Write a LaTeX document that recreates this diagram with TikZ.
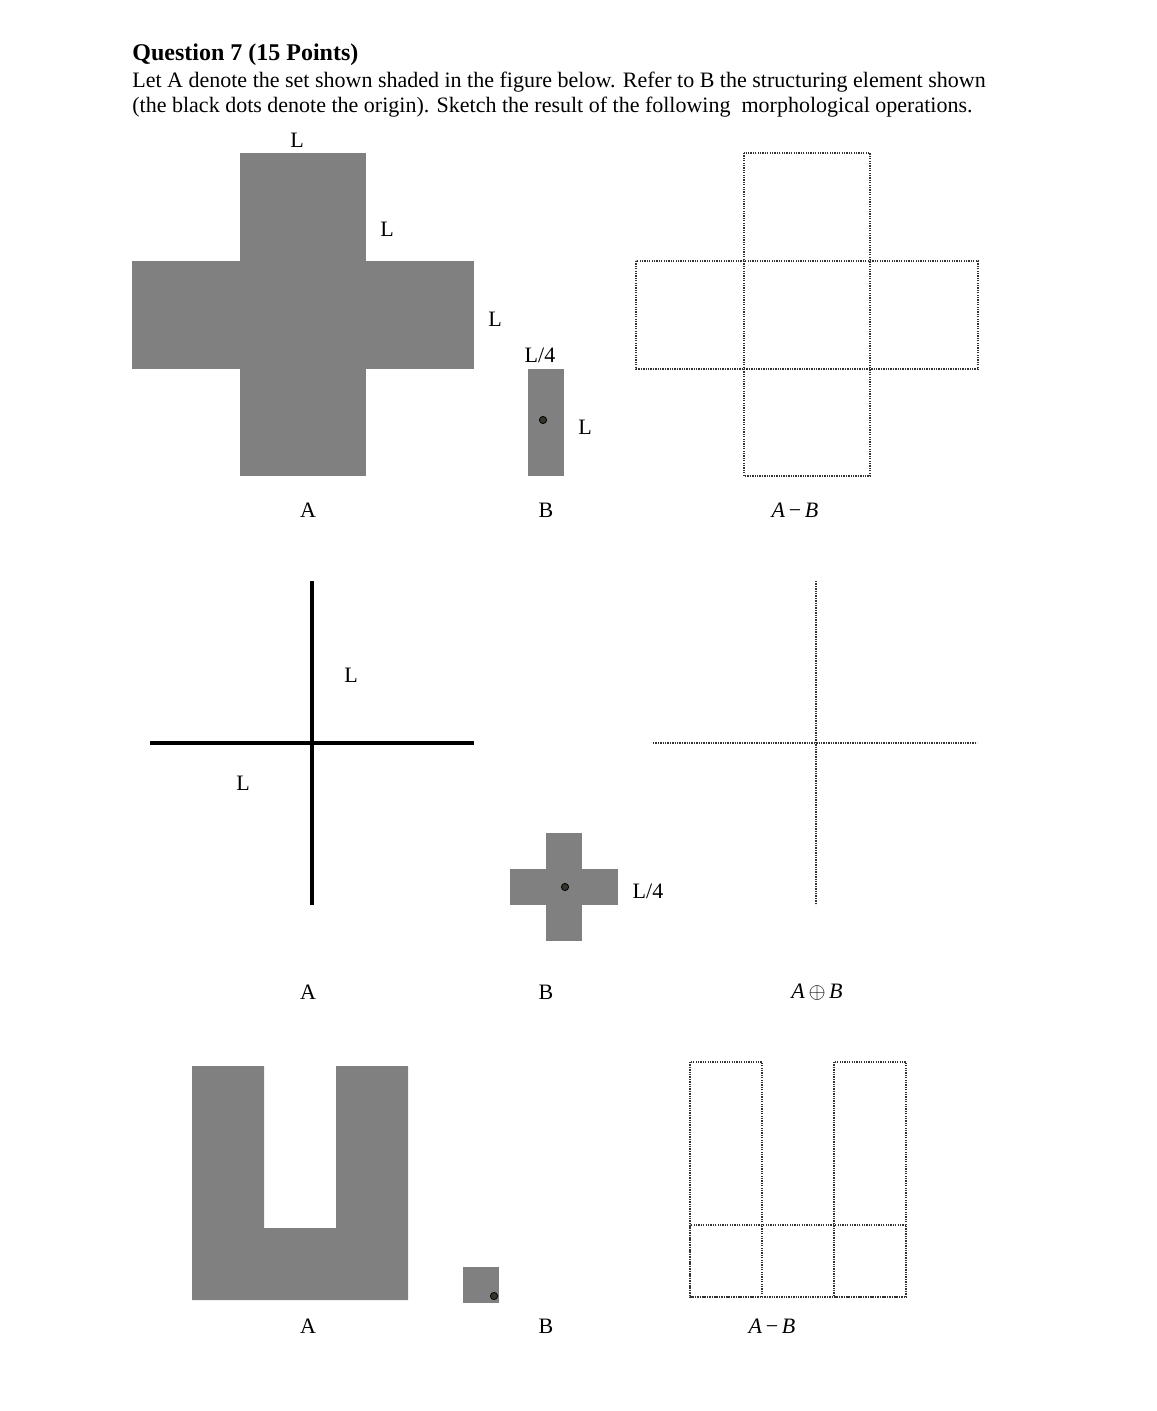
\documentclass[tikz,border=0pt]{standalone}
\usepackage{fontspec}
\setmainfont{Liberation Serif}
\begin{document}
\begin{tikzpicture}[x=0.5pt,y=-0.5pt,
  shade/.style={fill=black!50,draw=none},
  dotline/.style={draw=black!80,line width=0.65pt,dash pattern=on 0.65pt off 0.55pt},
  origin/.style={circle,draw=black,fill=black!80!olive,inner sep=0pt,minimum size=3.6pt,line width=0.4pt},
  lbl/.style={inner sep=0pt,font=\fontsize{11}{13}\selectfont},
  thick line/.style={line width=2pt,draw=black}]
\useasboundingbox (0,0) rectangle (1156,1411);
\fill[white] (0,0) rectangle (1156,1411);
% header
\node[lbl,anchor=base west,font=\fontsize{12}{14}\selectfont\bfseries] (title) at (132,61) {Question 7 (15 Points)};
\node[lbl,anchor=base west] (line1) at (132,88) {Let A denote the set shown shaded in the figure below. Refer to B the structuring element shown};
\node[lbl,anchor=base west] (line2) at (132,113) {(the black dots denote the origin). Sketch the result of the following\ \ morphological operations.};
% row 1
\fill[shade] (240,153) rectangle (366,476);
\fill[shade] (132,261) rectangle (474,369);
\node[lbl] (l1) at (297,140) {L};
\node[lbl] (l2) at (387,229) {L};
\node[lbl] (l3) at (495,319) {L};
\node[lbl] (l4) at (540,355) {L/4};
\node[lbl] (l5) at (585,427) {L};
\fill[shade] (528,369) rectangle (564,476);
\node[origin] (o1) at (543,420) {};
\draw[dotline] (744,153) rectangle (870,476);
\draw[dotline] (636,261) rectangle (978,369);
\node[lbl] (a1) at (308,510) {A};
\node[lbl] (b1) at (546,510) {B};
\node[lbl] (r1) at (795,510) {\textit{A}\,−\,\textit{B}};
% row 2
\draw[thick line] (312,581) -- (312,905);
\draw[thick line] (150,743) -- (474,743);
\node[lbl] (l6) at (351,675) {L};
\node[lbl] (l7) at (243,783) {L};
\fill[shade] (546,833) rectangle (582,941);
\fill[shade] (510,869) rectangle (618,905);
\node[origin] (o2) at (565,887) {};
\node[lbl] (l8) at (648,891) {L/4};
\draw[dotline] (816,581) -- (816,905);
\draw[dotline] (653,743) -- (977,743);
\node[lbl] (a2) at (308,992) {A};
\node[lbl] (b2) at (546,992) {B};
\node[lbl] (r2) at (817,992) {\textit{A}\,$\oplus$\,\textit{B}};
% row 3
\fill[shade] (192,1066) -- (264,1066) -- (264,1228) -- (336,1228) -- (336,1066) -- (408,1066) -- (408,1300) -- (192,1300) -- cycle;
\fill[shade] (463,1267) rectangle (499,1303);
\node[origin] (o3) at (494,1296) {};
\draw[dotline] (690,1062) rectangle (762,1297);
\draw[dotline] (834,1062) rectangle (906,1297);
\draw[dotline] (690,1225) rectangle (906,1297);
\node[lbl] (a3) at (308,1326) {A};
\node[lbl] (b3) at (546,1326) {B};
\node[lbl] (r3) at (772,1326) {\textit{A}\,−\,\textit{B}};
\end{tikzpicture}
\end{document}
